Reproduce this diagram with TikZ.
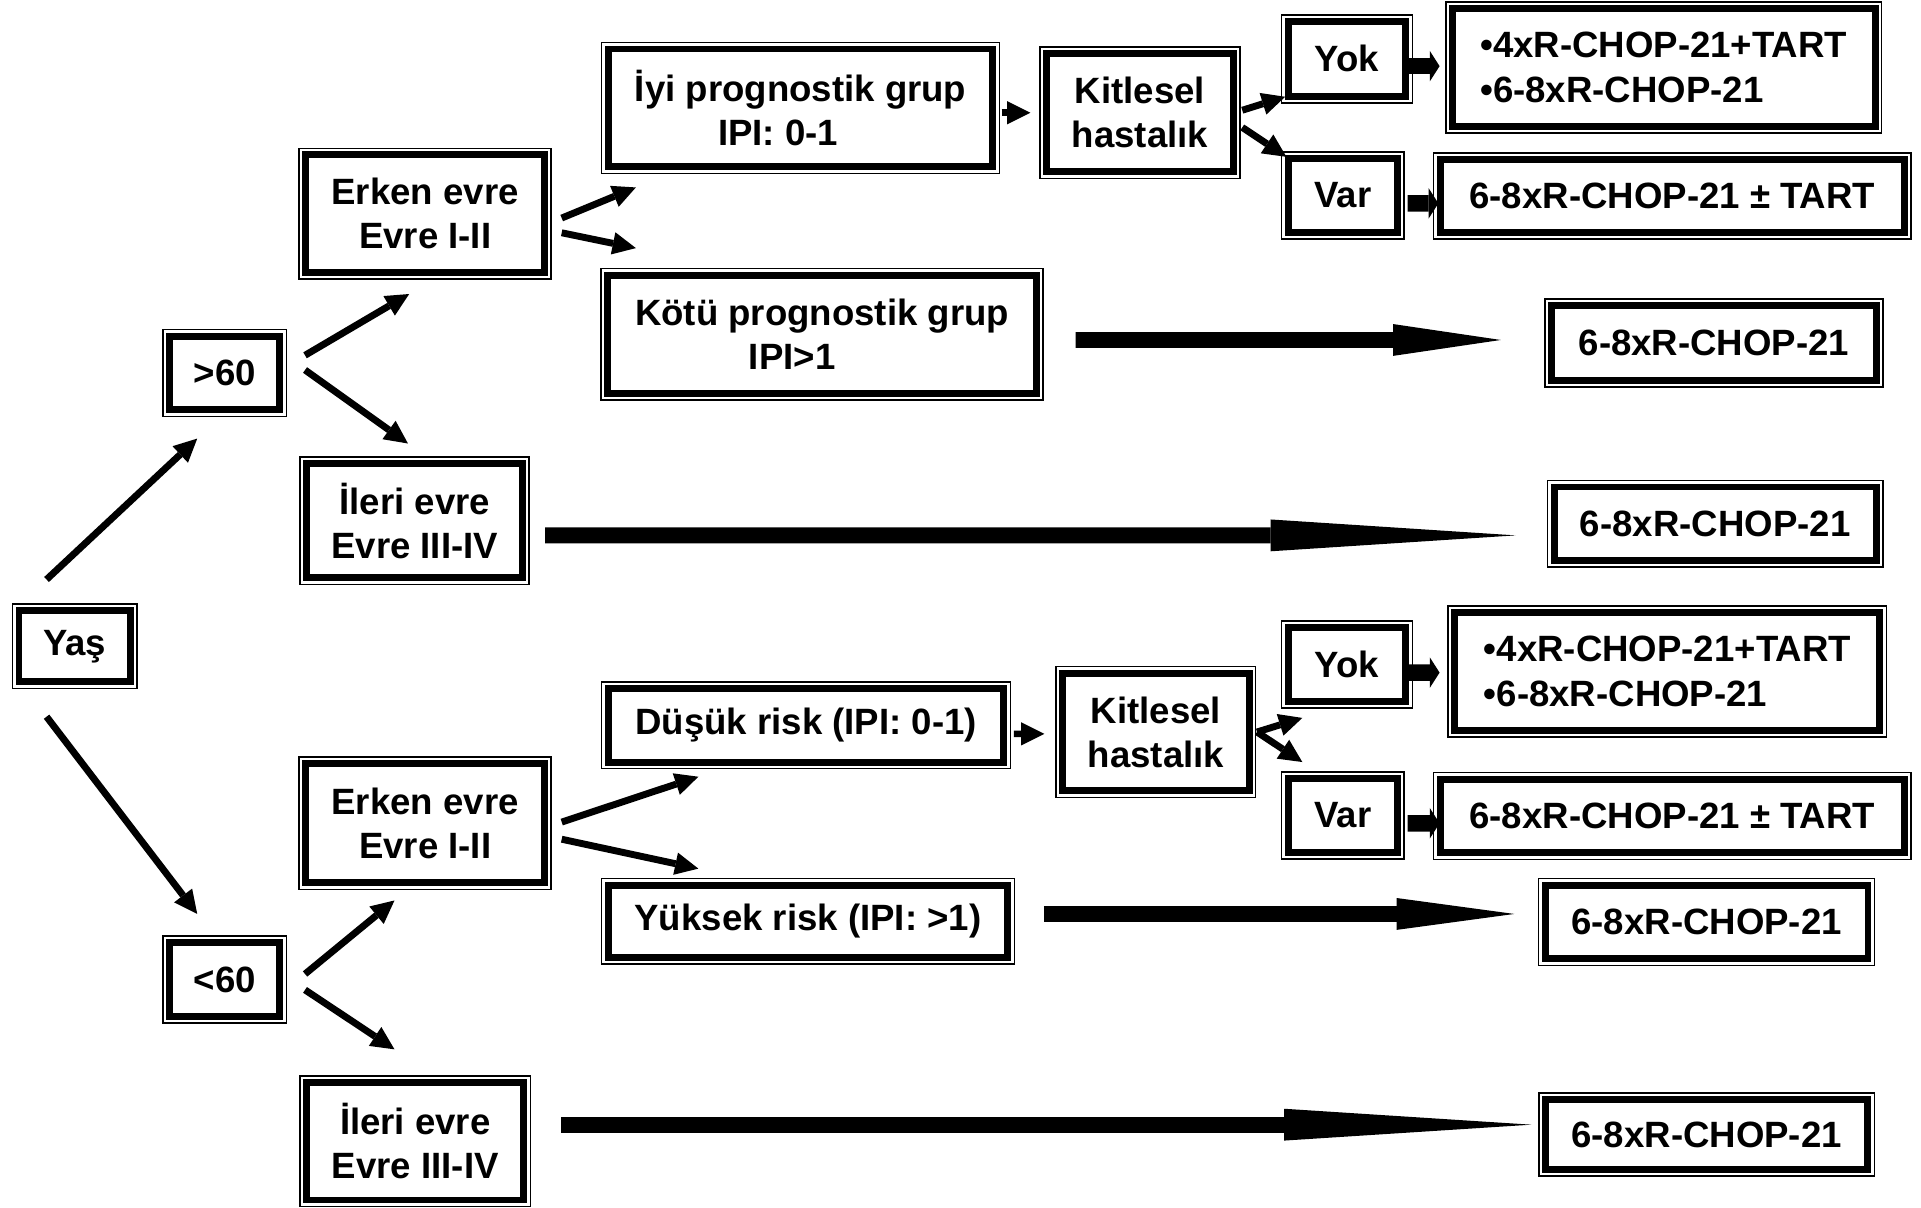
\documentclass[tikz,border=0pt]{standalone}
\usepackage{fontspec}
\setmainfont{Liberation Sans}
\usetikzlibrary{arrows.meta}
\tikzset{bx/.append style={draw, fill=white, line width=3.24pt, inner sep=0pt, outer sep=0pt, align=center,
    preaction={draw, line width=6.9pt}, preaction={draw=white, line width=5.5pt},
    font=\fontsize{17}{20.5}\selectfont\bfseries}}
\tikzset{ar/.append style={line width=3.2pt, -{Triangle[length=0.38cm,width=0.37cm,line width=0pt]}}}
\tikzset{sm/.append style={line width=3.1pt, -{Triangle[length=0.38cm,width=0.38cm,line width=0pt]}}}
\tikzset{fat/.append style={line width=0.27cm, -{Triangle[length=0.16cm,width=0.5cm,line width=0pt]}}}
\tikzset{big/.append style={line width=0.26cm}}

\begin{document}
\begin{tikzpicture}[x=0.02cm,y=-0.02cm]
                \useasboundingbox (0,0) rectangle (1568,986);
                % age split
                \node[bx, minimum width=1.82cm, minimum height=1.16cm] (yas) at (61,527.5) {Yaş};
                \node[bx, minimum width=1.8cm, minimum height=1.2cm] (gt) at (183.5,304.5) {>60};
                \node[bx, minimum width=1.8cm, minimum height=1.2cm] (lt) at (183.5,799.5) {<60};
                \node[bx, minimum width=3.9cm, minimum height=1.92cm] (erk1) at (347,174.5) {Erken evre\\Evre I-II};
                \node[bx, minimum width=3.52cm, minimum height=1.86cm] (ilr1) at (338.5,425) {İleri evre\\Evre III-IV};
                \node[bx, minimum width=3.9cm, minimum height=1.94cm] (erk2) at (347,672) {Erken evre\\Evre I-II};
                \node[bx, minimum width=3.54cm, minimum height=1.92cm] (ilr2) at (339,931.5) {İleri evre\\Evre III-IV};
                % upper branch
                \node[bx, minimum width=6.28cm, minimum height=1.92cm, align=left] (iyi) at (653.5,88) {İyi prognostik grup\\\hspace*{1.36cm}IPI: 0-1};
                \node[bx, minimum width=7cm, minimum height=1.93cm, align=left] (kotu) at (671,272.75) {Kötü prognostik grup\\\hspace*{1.86cm}IPI>1};
                \node[bx, minimum width=3.04cm, minimum height=1.93cm] (kit1) at (930.5,92) {Kitlesel\\hastalık};
                \node[bx, minimum width=1.92cm, minimum height=1.22cm] (yok1) at (1099.5,48) {Yok};
                \node[bx, minimum width=1.78cm, minimum height=1.2cm] (var1) at (1096,159.5) {Var};
                \node[bx, minimum width=6.9cm, minimum height=1.92cm, align=left] (rx1) at (1358,55) {•4xR-CHOP-21+TART\\•6-8xR-CHOP-21};
                \node[bx, minimum width=7.58cm, minimum height=1.18cm] (pm1) at (1365,160) {6-8xR-CHOP-21 ± TART};
                \node[bx, minimum width=5.3cm, minimum height=1.22cm] (ch1) at (1399,280) {6-8xR-CHOP-21};
                \node[bx, minimum width=5.26cm, minimum height=1.2cm] (ch2) at (1400,427.5) {6-8xR-CHOP-21};
                % lower branch
                \node[bx, minimum width=6.46cm, minimum height=1.2cm] (dus) at (658,592) {Düşük risk (IPI: 0-1)};
                \node[bx, minimum width=6.52cm, minimum height=1.18cm] (yuk) at (659.5,752) {Yüksek risk (IPI: >1)};
                \node[bx, minimum width=3.04cm, minimum height=1.92cm] (kit2) at (943.5,597.5) {Kitlesel\\hastalık};
                \node[bx, minimum width=1.92cm, minimum height=1.2cm] (yok2) at (1099.5,542.5) {Yok};
                \node[bx, minimum width=1.78cm, minimum height=1.2cm] (var2) at (1096,665.5) {Var};
                \node[bx, minimum width=6.94cm, minimum height=1.92cm, align=left] (rx2) at (1361,548) {•4xR-CHOP-21+TART\\•6-8xR-CHOP-21};
                \node[bx, minimum width=7.58cm, minimum height=1.2cm] (pm2) at (1365,666) {6-8xR-CHOP-21 ± TART};
                \node[bx, minimum width=5.27cm, minimum height=1.2cm] (ch3) at (1393,752.5) {6-8xR-CHOP-21};
                \node[bx, minimum width=5.26cm, minimum height=1.14cm] (ch4) at (1393,926) {6-8xR-CHOP-21};
                % thin arrows
                \draw[ar] ([shift={(-23,-25.5)}]yas.north) -- ([shift={(-22.5,23.5)}]gt.south);
                \draw[ar] ([shift={(-23,28.5)}]yas.south) -- ([shift={(-22.5,-23.5)}]lt.north);
                \draw[ar] ([shift={(20.5,-14.5)}]gt.east) -- ([shift={(-13,17.5)}]erk1.south);
                \draw[ar] ([shift={(20.5,-2.5)}]gt.east) -- ([shift={(-5.5,-16.5)}]ilr1.north);
                \draw[ar] ([shift={(20.5,-4.5)}]lt.east) -- ([shift={(-25,14.5)}]erk2.south);
                \draw[ar] ([shift={(20.5,8.5)}]lt.east) -- ([shift={(-17,-27)}]ilr2.north);
                \draw[ar] ([shift={(14,3.5)}]erk1.east) -- ([shift={(22.5,17)}]iyi.south west);
                \draw[ar] ([shift={(14,15.5)}]erk1.east) -- ([shift={(23,-22)}]kotu.north west);
                \draw[ar] ([shift={(14,-1)}]erk2.east) -- ([shift={(73.5,12)}]dus.south west);
                \draw[ar] ([shift={(14,13)}]erk2.east) -- ([shift={(73.5,-13.5)}]yuk.north west);
                \draw[ar] ([shift={(7.5,-2)}]kit1.east) -- ([shift={(-2.5,0.5)}]yok1.south west);
                \draw[ar] ([shift={(7.5,12)}]kit1.east) -- ([shift={(-1.5,-1.5)}]var1.north west);
                \draw[ar] ([shift={(6.5,0)}]kit2.east) -- ([shift={(11.5,13.5)}]yok2.south west);
                \draw[ar] ([shift={(6.5,0)}]kit2.east) -- ([shift={(11.5,-13.5)}]var2.north west);
                \draw[sm] ([shift={(7,4)}]iyi.east) -- ([shift={(-13.5,0)}]kit1.west);
                \draw[sm] ([shift={(8,7)}]dus.east) -- ([shift={(-15,1.5)}]kit2.west);
                % fat arrows
                \draw[fat] ([shift={(1.5,6)}]yok1.east) -- ([shift={(-10.5,-1)}]rx1.west);
                \draw[fat] ([shift={(8.5,6.5)}]var1.east) -- ([shift={(-1.5,6)}]pm1.west);
                \draw[fat] ([shift={(1.5,6.5)}]yok2.east) -- ([shift={(-12.5,1)}]rx2.west);
                \draw[fat] ([shift={(8.5,6.5)}]var2.east) -- ([shift={(-0.5,6)}]pm2.west);
                % long arrows
                \draw[big, -{Triangle[length=1.76cm,width=0.52cm,line width=0pt]}] ([shift={(32,4.75)}]kotu.east) -- ([shift={(-41.5,-2.5)}]ch1.west);
                \draw[big, -{Triangle[length=4cm,width=0.52cm,line width=0pt]}] ([shift={(18.5,12)}]ilr1.east) -- ([shift={(-31.5,9.5)}]ch2.west);
                \draw[big, -{Triangle[length=1.92cm,width=0.52cm,line width=0pt]}] ([shift={(29.5,-6)}]yuk.east) -- ([shift={(-25.25,-6.5)}]ch3.west);
                \draw[big, -{Triangle[length=4.04cm,width=0.52cm,line width=0pt]}] ([shift={(30.5,-13.5)}]ilr2.east) -- ([shift={(-11.5,-8)}]ch4.west);
\end{tikzpicture}
\end{document}
